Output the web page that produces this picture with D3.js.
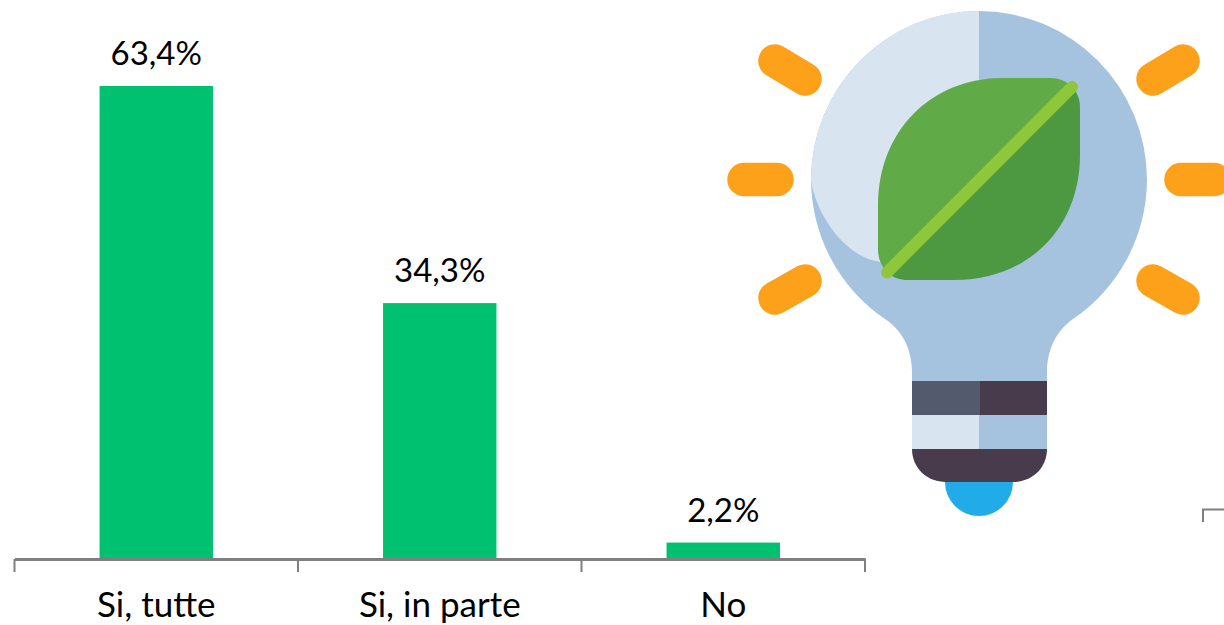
<!DOCTYPE html>
<html>
<head>
<meta charset="utf-8">
<script src="https://cdn.jsdelivr.net/npm/d3@7"></script>
<style>
  html, body { margin: 0; padding: 0; background: #fff; overflow: hidden; }
  text { font-family: Lato, sans-serif; fill: #000; }
</style>
</head>
<body>
<svg id="chart" width="1224" height="625"></svg>
<script>
const categories = ['Si, tutte', 'Si, in parte', 'No'];
const values = [63.4, 34.3, 2.2];
const valueLabels = ['63,4%', '34,3%', '2,2%'];

const color = {
  bar: '#00c170',
  axis: '#7f7f7f',
  orange: '#fca119',
  bulb: '#a5c3de',
  bulbLight: '#d8e5f1',
  leafLight: '#60aa47',
  leafDark: '#4c9941',
  stem: '#8fc73b',
  baseLight: '#545a6e',
  baseDark: '#483b4c',
  tip: '#22abe9'
};

const svg = d3.select('#chart');
const baseline = 559;

const x = d3.scaleBand().domain(categories).range([14.5, 865]).paddingInner(0.6).paddingOuter(0.3);
const y = d3.scaleLinear().domain([0, 63.4]).range([baseline, 86]);

// bars
svg.append('g').selectAll('rect')
  .data(values)
  .join('rect')
  .attr('x', (d, i) => x(categories[i]))
  .attr('y', d => y(d))
  .attr('width', x.bandwidth())
  .attr('height', d => baseline - y(d))
  .attr('fill', color.bar);

// value labels
svg.append('g').selectAll('text')
  .data(values)
  .join('text')
  .attr('x', (d, i) => x(categories[i]) + x.bandwidth() / 2)
  .attr('y', d => y(d) - 21)
  .attr('text-anchor', 'middle')
  .attr('font-size', 33)
  .text((d, i) => valueLabels[i]);

// category axis, ticks sit between the categories
const axis = svg.append('g').attr('transform', `translate(0, ${baseline})`);
axis.call(d3.axisBottom(x).tickSize(0).tickPadding(33));
axis.select('.domain').attr('stroke', color.axis).attr('stroke-width', 3);
axis.selectAll('.tick text').attr('font-size', 35).attr('font-family', 'Lato, sans-serif').attr('fill', '#000');

axis.selectAll('line.edge')
  .data(d3.range(categories.length + 1))
  .join('line')
  .attr('class', 'edge')
  .attr('x1', i => 14.5 + i * x.step())
  .attr('x2', i => 14.5 + i * x.step())
  .attr('y1', 0)
  .attr('y2', 13)
  .attr('stroke', color.axis)
  .attr('stroke-width', 2);

// stray bit of the next axis at the right edge
svg.append('path')
  .attr('d', 'M1203,522V509.5H1224')
  .attr('fill', 'none')
  .attr('stroke', color.axis)
  .attr('stroke-width', 2);

// light bulb
const bulb = svg.append('g');

const rays = [
  [744, 179.5, 777, 179.5], [1181, 179.5, 1214, 179.5],
  [775, 61, 805, 79], [1183, 61, 1153, 79],
  [775, 298, 805, 281], [1183, 298, 1153, 281]
];
bulb.selectAll('line.ray')
  .data(rays)
  .join('line')
  .attr('class', 'ray')
  .attr('x1', d => d[0]).attr('y1', d => d[1])
  .attr('x2', d => d[2]).attr('y2', d => d[3])
  .attr('stroke', color.orange)
  .attr('stroke-width', 33.5)
  .attr('stroke-linecap', 'round');

bulb.append('circle').attr('cx', 979).attr('cy', 482).attr('r', 34).attr('fill', color.tip);

bulb.append('path')
  .attr('d', 'M979,11A168,169 0 0 1 1147,180A168,169 0 0 1 1073,319C1056,331 1047,350 1047,372V382H912V372C912,350 903,331 885,319A168,169 0 0 1 811,180A168,169 0 0 1 979,11Z')
  .attr('fill', color.bulb);

bulb.append('path')
  .attr('d', 'M979,11A168,169 0 0 0 811,180C816,215 845,257 880,262H979Z')
  .attr('fill', color.bulbLight);

bulb.append('rect').attr('x', 912).attr('y', 381).attr('width', 68).attr('height', 34).attr('fill', color.baseLight);
bulb.append('rect').attr('x', 980).attr('y', 381).attr('width', 67).attr('height', 34).attr('fill', color.baseDark);
bulb.append('rect').attr('x', 912).attr('y', 415).attr('width', 67).attr('height', 34).attr('fill', color.bulbLight);
bulb.append('rect').attr('x', 979).attr('y', 415).attr('width', 68).attr('height', 34).attr('fill', color.bulb);
bulb.append('path')
  .attr('d', 'M912,449H1047C1047,468 1032,482 1013,482H946C927,482 912,468 912,449Z')
  .attr('fill', color.baseDark);

// leaf, two halves and the stem across
bulb.append('path')
  .attr('d', 'M1072,87C1066,81 1059,78 1050,78H1003C930,78 878,132 878,205V250C878,258 881,266 887,272Z')
  .attr('fill', color.leafLight);
bulb.append('path')
  .attr('d', 'M1072,87C1078,93 1080,100 1080,108V155C1080,228 1028,280 955,280H908C900,280 893,278 887,272Z')
  .attr('fill', color.leafDark);
bulb.append('line')
  .attr('x1', 887).attr('y1', 272.5).attr('x2', 1072).attr('y2', 87)
  .attr('stroke', color.stem)
  .attr('stroke-width', 12)
  .attr('stroke-linecap', 'round');
</script>
</body>
</html>
